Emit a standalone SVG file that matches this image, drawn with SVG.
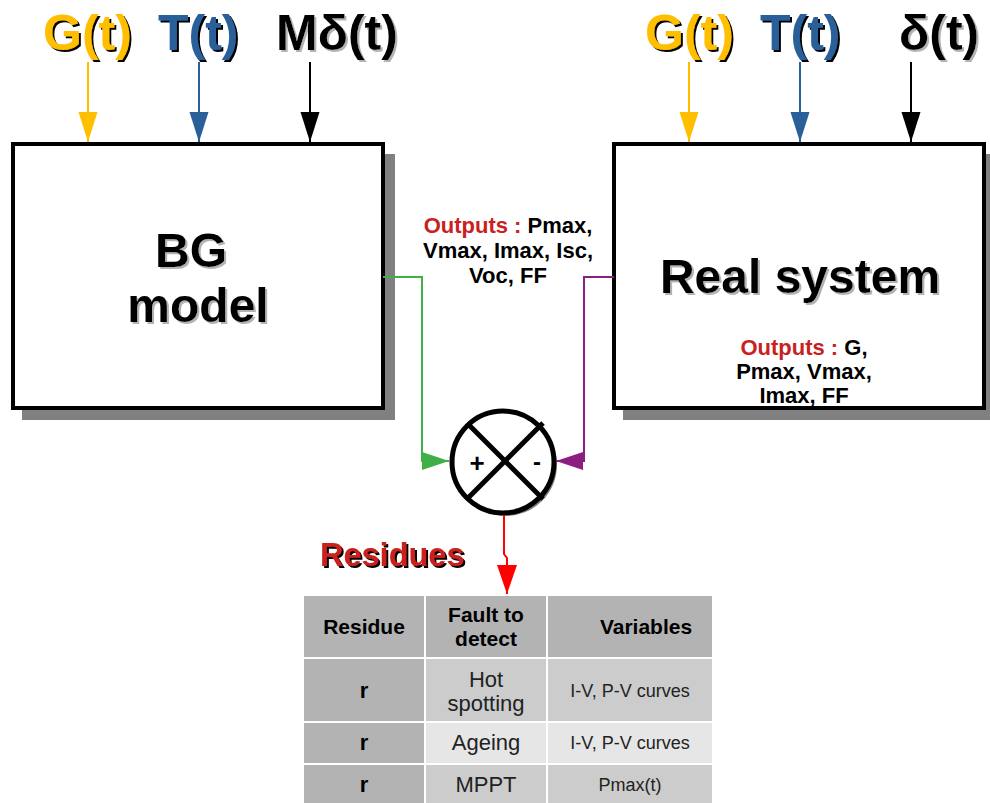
<svg xmlns="http://www.w3.org/2000/svg" width="990" height="803" viewBox="0 0 990 803">
<defs>
<style>
text{font-family:"Liberation Sans",Arial,sans-serif;}
.big{font-size:48px;font-weight:bold;}
.lbl{font-size:50px;font-weight:bold;}
.out{font-size:22px;font-weight:bold;text-anchor:middle;}
.red{fill:#C9211E;}
.box{fill:#fff;stroke:#000;stroke-width:4;}
.shadow{fill:#808080;}
.th{font-size:21px;font-weight:bold;text-anchor:middle;}
.tr{font-size:22px;font-weight:bold;text-anchor:middle;}
.tc{font-size:22px;text-anchor:middle;fill:#222;}
.tv{font-size:18px;text-anchor:middle;fill:#222;}
.cell-h{fill:#b3b3b3;}
.cell-a{fill:#cccccc;}
.cell-b{fill:#e6e6e6;}
</style>
<filter id="shDark" x="-10%" y="-10%" width="130%" height="130%">
<feDropShadow dx="2" dy="2" stdDeviation="0" flood-color="#000" flood-opacity="1"/>
</filter>
<filter id="shLight" x="-10%" y="-10%" width="130%" height="130%">
<feDropShadow dx="2" dy="2" stdDeviation="0" flood-color="#b3b3b3" flood-opacity="1"/>
</filter>
<marker id="aY" markerUnits="userSpaceOnUse" markerWidth="30" markerHeight="20" refX="30" refY="9.5" orient="auto"><path d="M0,0 L30,9.5 L0,19 z" fill="#FFBF00"/></marker>
<marker id="aB" markerUnits="userSpaceOnUse" markerWidth="30" markerHeight="20" refX="30" refY="9.5" orient="auto"><path d="M0,0 L30,9.5 L0,19 z" fill="#2A6099"/></marker>
<marker id="aK" markerUnits="userSpaceOnUse" markerWidth="30" markerHeight="20" refX="30" refY="9.5" orient="auto"><path d="M0,0 L30,9.5 L0,19 z" fill="#000"/></marker>
<marker id="aG" markerUnits="userSpaceOnUse" markerWidth="28" markerHeight="20" refX="27" refY="9" orient="auto"><path d="M0,0 L27,9 L0,18 z" fill="#3FAF46"/></marker>
<marker id="aP" markerUnits="userSpaceOnUse" markerWidth="28" markerHeight="20" refX="27" refY="9" orient="auto"><path d="M0,0 L27,9 L0,18 z" fill="#8B1F7F"/></marker>
<marker id="aR" markerUnits="userSpaceOnUse" markerWidth="30" markerHeight="22" refX="29" refY="10" orient="auto"><path d="M0,0 L29,10 L0,20 z" fill="#FF0000"/></marker>
</defs>
<rect width="990" height="803" fill="#fff"/>

<g id="inputs-left">
<text x="43" y="50" class="lbl" fill="#FFBF00" filter="url(#shDark)">G(t)</text>
<text x="158" y="50" class="lbl" fill="#2A6099" filter="url(#shDark)">T(t)</text>
<text x="276" y="50" class="lbl" fill="#000" filter="url(#shLight)">Mδ(t)</text>
</g>
<g id="inputs-right">
<text x="645" y="50" class="lbl" fill="#FFBF00" filter="url(#shDark)">G(t)</text>
<text x="760" y="50" class="lbl" fill="#2A6099" filter="url(#shDark)">T(t)</text>
<text x="899" y="50" class="lbl" fill="#000" filter="url(#shLight)">δ(t)</text>
</g>

<g id="bg-model">
<rect x="22" y="154" width="373" height="266" class="shadow"/>
<rect x="13" y="144" width="370" height="264" class="box"/>
<text x="191" y="267" class="big" text-anchor="middle" filter="url(#shLight)">BG</text>
<text x="198" y="322" class="big" text-anchor="middle" filter="url(#shLight)">model</text>
</g>

<g id="real-system">
<rect x="623" y="154" width="373" height="266" class="shadow"/>
<rect x="614" y="144" width="370" height="264" class="box"/>
<text x="800" y="293" class="big" text-anchor="middle" filter="url(#shLight)">Real system</text>
<text x="804" y="355" class="out"><tspan class="red">Outputs : </tspan>G,</text>
<text x="804" y="379" class="out">Pmax, Vmax,</text>
<text x="804" y="403" class="out">Imax, FF</text>
</g>

<g id="bg-outputs">
<text x="508" y="233" class="out"><tspan class="red">Outputs : </tspan>Pmax,</text>
<text x="508" y="258" class="out">Vmax, Imax, Isc,</text>
<text x="508" y="283" class="out">Voc, FF</text>
</g>

<g id="comparator">
<circle cx="506" cy="465" r="51" fill="#808080"/>
<circle cx="503" cy="462" r="51" fill="#fff" stroke="#000" stroke-width="5"/>
<line x1="467" y1="423" x2="543" y2="499" stroke="#000" stroke-width="5"/>
<line x1="543" y1="423" x2="467" y2="499" stroke="#000" stroke-width="5"/>
<text x="477" y="472" font-size="26" font-weight="bold" text-anchor="middle">+</text>
<text x="537" y="470" font-size="24" font-weight="bold" text-anchor="middle">-</text>
</g>

<g id="connectors" fill="none" stroke-width="2">
<line x1="88" y1="62" x2="88" y2="142" stroke="#FFBF00" marker-end="url(#aY)"/>
<line x1="199" y1="62" x2="199" y2="142" stroke="#2A6099" marker-end="url(#aB)"/>
<line x1="310" y1="62" x2="310" y2="142" stroke="#000" marker-end="url(#aK)"/>
<line x1="689" y1="62" x2="689" y2="142" stroke="#FFBF00" marker-end="url(#aY)"/>
<line x1="800" y1="62" x2="800" y2="142" stroke="#2A6099" marker-end="url(#aB)"/>
<line x1="911" y1="62" x2="911" y2="142" stroke="#000" marker-end="url(#aK)"/>
<path d="M383,277 H422 V461 H449" stroke="#3FAF46" marker-end="url(#aG)"/>
<path d="M614,277 H584 V461 H556" stroke="#8B1F7F" marker-end="url(#aP)"/>
<path d="M504,515 V554 L507,558 V594" stroke="#FF0000" marker-end="url(#aR)"/>
</g>

<g id="residues-label">
<text x="320" y="566" font-size="32.5" font-weight="bold" class="red" filter="url(#shDark)">Residues</text>
</g>

<g id="table" stroke="#fff" stroke-width="2">
<rect x="303" y="595" width="122" height="63" class="cell-h"/>
<rect x="425" y="595" width="122" height="63" class="cell-h"/>
<rect x="547" y="595" width="166" height="63" class="cell-h"/>
<rect x="303" y="658" width="122" height="64" class="cell-h"/>
<rect x="425" y="658" width="122" height="64" class="cell-a"/>
<rect x="547" y="658" width="166" height="64" class="cell-a"/>
<rect x="303" y="722" width="122" height="42" class="cell-h"/>
<rect x="425" y="722" width="122" height="42" class="cell-b"/>
<rect x="547" y="722" width="166" height="42" class="cell-b"/>
<rect x="303" y="764" width="122" height="41" class="cell-h"/>
<rect x="425" y="764" width="122" height="41" class="cell-a"/>
<rect x="547" y="764" width="166" height="41" class="cell-a"/>
<g stroke="none">
<text x="364" y="634" class="th">Residue</text>
<text x="486" y="622" class="th">Fault to</text>
<text x="486" y="646" class="th">detect</text>
<text x="646" y="634" class="th">Variables</text>
<text x="364" y="698" class="tr">r</text>
<text x="486" y="687" class="tc">Hot</text>
<text x="486" y="711" class="tc">spotting</text>
<text x="630" y="697" class="tv">I-V, P-V curves</text>
<text x="364" y="750" class="tr">r</text>
<text x="486" y="750" class="tc">Ageing</text>
<text x="630" y="749" class="tv">I-V, P-V curves</text>
<text x="364" y="792" class="tr">r</text>
<text x="486" y="792" class="tc">MPPT</text>
<text x="630" y="791" class="tv">Pmax(t)</text>
</g>
</g>
</svg>
